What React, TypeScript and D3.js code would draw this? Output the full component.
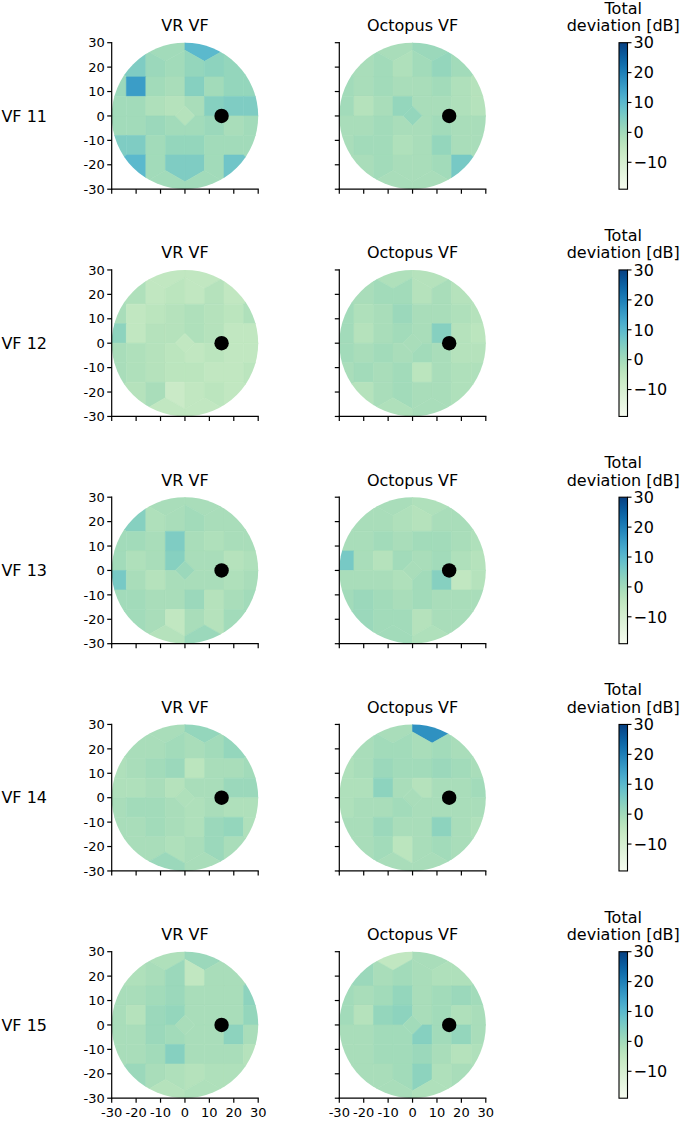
import React from "react";
import * as d3 from "d3";

// Test locations (degrees)
const locX = [
  -8, 8,
  -20, -12, -4, 4, 12, 20,
  -28, -20, -12, -4, 4, 12, 20, 28,
  -28, -20, -12, -4, 4, 12, 20, 28,
  0,
  -28, -20, -12, -4, 4, 12, 20, 28,
  -28, -20, -12, -4, 4, 12, 20, 28,
  -20, -12, -4, 4, 12, 20,
  -8, 8,
];
const locY = [
  27, 27,
  20, 20, 20, 20, 20, 20,
  12, 12, 12, 12, 12, 12, 12, 12,
  4, 4, 4, 4, 4, 4, 4, 4,
  0,
  -4, -4, -4, -4, -4, -4, -4, -4,
  -12, -12, -12, -12, -12, -12, -12, -12,
  -20, -20, -20, -20, -20, -20,
  -27, -27,
];

const rowLabels = ["VF 11", "VF 12", "VF 13", "VF 14", "VF 15"];
const colTitles = ["VR VF", "Octopus VF"];
const axisTicks = [-30, -20, -10, 0, 10, 20, 30];
const cbTicks = [30, 20, 10, 0, -10];
const cbDomain = [-19, 30];
const blindSpot = [15, 0];

const vf11VR = [0, 10, 5, 1, 0, 2, 3, 2, 1, 15, 0, -1, 4, 0, 2, 2, 0, 0, -2, -3, -1, 4, 5, 5, -3, 0, 0, 1, 0, 0, 1, -1, 0, 5, 5, 0, 2, 2, 0, 0, 0, 10, 0, 5, 5, 0, 7, 0, 0];
const vf11Oct = [-1, 1, -1, 0, -2, 0, 2, 0, 0, -1, 0, -1, -1, 0, -2, -3, 0, -3, -1, 2, -1, -1, -2, -3, 2, -1, -1, 0, -1, -1, 0, -1, -1, -1, 0, 0, -2, -1, 2, -1, -1, -1, 0, -1, -1, 0, 6, -1, -1];
const vf12VR = [-5, -5, -2, -5, -4, -5, -3, -5, -1, -5, -4, -3, -2, -3, -4, -2, 3, -5, -3, -3, -2, -3, -5, -5, -5, -1, -2, -3, -4, -5, -4, -5, -5, -1, -2, -3, -4, -4, -5, -5, -4, -3, -1, -7, -5, -4, -5, -5, -5];
const vf12Oct = [-2, -3, -1, 0, 0, -3, -1, -3, 0, -2, -1, 1, -1, -1, -2, -3, 0, -3, -1, 0, -1, 4, -3, -4, -1, 0, -1, 0, -1, 0, -1, -3, -3, -1, 0, -1, 0, -4, -1, -2, -2, -3, -1, 0, -1, -1, -2, -2, -1];
const vf13VR = [-1, -1, 4, -2, -1, 0, -1, -1, 0, 0, -1, 5, -1, -2, -1, -1, 0, -2, -1, 4, -1, -1, -3, -2, 1, 6, -1, -3, -1, -1, -1, -2, -1, 0, 0, -1, -1, 1, -3, -1, 0, 0, -1, -5, -1, -3, 0, -3, 1];
const vf13Oct = [-1, -2, -1, -1, -2, -3, -1, -1, -1, -1, 0, -1, 0, 0, -1, -2, 6, -1, -3, 0, -1, 0, -2, -3, -1, -1, -1, -1, -2, 0, 4, -5, -3, 0, 1, 0, -1, 0, -1, -1, -1, 1, 0, 0, -3, -1, -1, 0, -2];
const vf14VR = [-1, 2, -1, -1, 0, -1, 0, 2, -2, -1, 0, 1, -4, -1, -1, 0, -2, -2, -1, -3, -1, -1, 1, 1, -2, -1, 0, 0, -1, -2, -1, -2, -2, -1, -1, 0, -1, -2, 1, 2, -2, -1, -1, -2, -1, 1, -1, 1, -1];
const vf14Oct = [-1, 17, -1, 0, 0, -1, 0, -1, -2, -1, 1, 0, 0, 1, 0, -1, -2, -2, 3, -1, -3, -1, -1, 0, -1, -2, -1, -1, 0, -1, -1, -1, -1, -1, -1, 1, -1, -1, 3, -1, -2, -1, 0, -4, -1, 0, -1, -1, -1];
const vf15VR = [-2, 1, -2, -1, 1, -5, -1, -1, -1, -1, 0, 1, -1, -1, -1, 3, -1, -3, 1, 2, -1, -1, -1, 2, -1, -1, -1, 1, 0, -1, -1, 3, -1, -1, -1, 0, 4, -1, -1, -1, -3, 1, -1, -2, -3, -2, -2, -3, -2];
const vf15Oct = [-5, -1, 1, -1, 0, -1, -2, -2, 0, -1, 0, 2, -1, 0, 1, 0, 0, -3, 2, 3, -1, 0, -2, -1, 0, -1, -1, 0, 0, 4, 0, 2, -1, -1, -1, 0, 0, 1, -1, -3, -2, -1, -1, 0, 3, -2, -1, -1, -2];

const panels = [
  [vf11VR, vf11Oct],
  [vf12VR, vf12Oct],
  [vf13VR, vf13Oct],
  [vf14VR, vf14Oct],
  [vf15VR, vf15Oct],
];

const W = 683;
const H = 1121;
const FONT = "DejaVu Sans, sans-serif";
const colX0 = [111.7, 339.3];
const AX = 146.5;
const rowY0 = (i: number) => 42.7 + 227.25 * i;
const cbX = 619;
const cbW = 8.5;

const color = d3.scaleSequential(d3.interpolateGnBu).domain(cbDomain as [number, number]);

function Panel({ values, x0, y0, showY, showX, title, id }: any) {
  const xs = d3.scaleLinear().domain([-30, 30]).range([x0, x0 + AX]);
  const ys = d3.scaleLinear().domain([-30, 30]).range([y0 + AX, y0]);
  const pts: [number, number][] = locX.map((x, i) => [xs(x), ys(locY[i])]);
  const vor = d3.Delaunay.from(pts).voronoi([x0 - 5, y0 - 5, x0 + AX + 5, y0 + AX + 5]);
  const cx = xs(0), cy = ys(0);
  const r = xs(30) - xs(0);
  return (
    <g>
      <defs>
        <clipPath id={id}>
          <circle cx={cx} cy={cy} r={r} />
        </clipPath>
      </defs>
      <text x={cx} y={y0 - 11.5} textAnchor="middle" fontSize={16} fontFamily={FONT}>{title}</text>
      <g clipPath={`url(#${id})`}>
        {pts.map((_, i) => (
          <path key={i} d={vor.renderCell(i)} fill={color(values[i])} stroke={color(values[i])} strokeWidth={0.6} />
        ))}
      </g>
      <circle cx={xs(blindSpot[0])} cy={ys(blindSpot[1])} r={7.2} fill="#000" />
      <line x1={x0} x2={x0} y1={y0 - 0.6} y2={y0 + AX + 0.6} stroke="#000" strokeWidth={1.2} />
      <line x1={x0 - 0.6} x2={x0 + AX + 0.6} y1={y0 + AX} y2={y0 + AX} stroke="#000" strokeWidth={1.2} />
      {axisTicks.map((t) => (
        <g key={"y" + t}>
          <line x1={x0 - 4.5} x2={x0} y1={ys(t)} y2={ys(t)} stroke="#000" strokeWidth={1.2} />
          {showY && (
            <text x={x0 - 7} y={ys(t)} dy="0.36em" textAnchor="end" fontSize={13} fontFamily={FONT}>{String(t)}</text>
          )}
        </g>
      ))}
      {axisTicks.map((t) => (
        <g key={"x" + t}>
          <line x1={xs(t)} x2={xs(t)} y1={y0 + AX} y2={y0 + AX + 4.5} stroke="#000" strokeWidth={1.2} />
          {showX && (
            <text x={xs(t)} y={y0 + AX + 19} textAnchor="middle" fontSize={13} fontFamily={FONT}>{String(t)}</text>
          )}
        </g>
      ))}
    </g>
  );
}

function Colorbar({ y0, idx }: any) {
  const cs = d3.scaleLinear().domain(cbDomain).range([y0 + AX, y0]);
  const stops = d3.range(0, 1.0001, 0.05);
  const gid = "cbg" + idx;
  return (
    <g>
      <defs>
        <linearGradient id={gid} x1="0" y1="1" x2="0" y2="0">
          {stops.map((s) => (
            <stop key={s} offset={s} stopColor={d3.interpolateGnBu(s)} />
          ))}
        </linearGradient>
      </defs>
      <text x={cbX + cbW / 2} y={y0 - 29} textAnchor="middle" fontSize={16} fontFamily={FONT}>Total</text>
      <text x={cbX + cbW / 2} y={y0 - 11.5} textAnchor="middle" fontSize={16} fontFamily={FONT}>deviation [dB]</text>
      <rect x={cbX} y={y0} width={cbW} height={AX} fill={`url(#${gid})`} stroke="#000" strokeWidth={1.1} />
      {cbTicks.map((t) => (
        <g key={t}>
          <line x1={cbX + cbW} x2={cbX + cbW + 4} y1={cs(t)} y2={cs(t)} stroke="#000" strokeWidth={1.1} />
          <text x={cbX + cbW + 6} y={cs(t)} dy="0.36em" fontSize={16} fontFamily={FONT}>
            {t < 0 ? "\u2212" + Math.abs(t) : String(t)}
          </text>
        </g>
      ))}
    </g>
  );
}

export default function App() {
  return (
    <svg width={W} height={H} style={{ position: "absolute", left: 0, top: 0, background: "#fff" }}>
      <rect width={W} height={H} fill="#fff" />
      {panels.map((row, ri) => {
        const y0 = rowY0(ri);
        return (
          <g key={ri}>
            <text x={47} y={y0 + AX / 2} dy="0.36em" textAnchor="end" fontSize={16} fontFamily={FONT}>{rowLabels[ri]}</text>
            {row.map((vals, ci) => (
              <Panel
                key={ci}
                id={`clip-${ri}-${ci}`}
                values={vals}
                x0={colX0[ci]}
                y0={y0}
                showY={ci === 0}
                showX={ri === panels.length - 1}
                title={colTitles[ci]}
              />
            ))}
            <Colorbar y0={y0} idx={ri} />
          </g>
        );
      })}
    </svg>
  );
}
